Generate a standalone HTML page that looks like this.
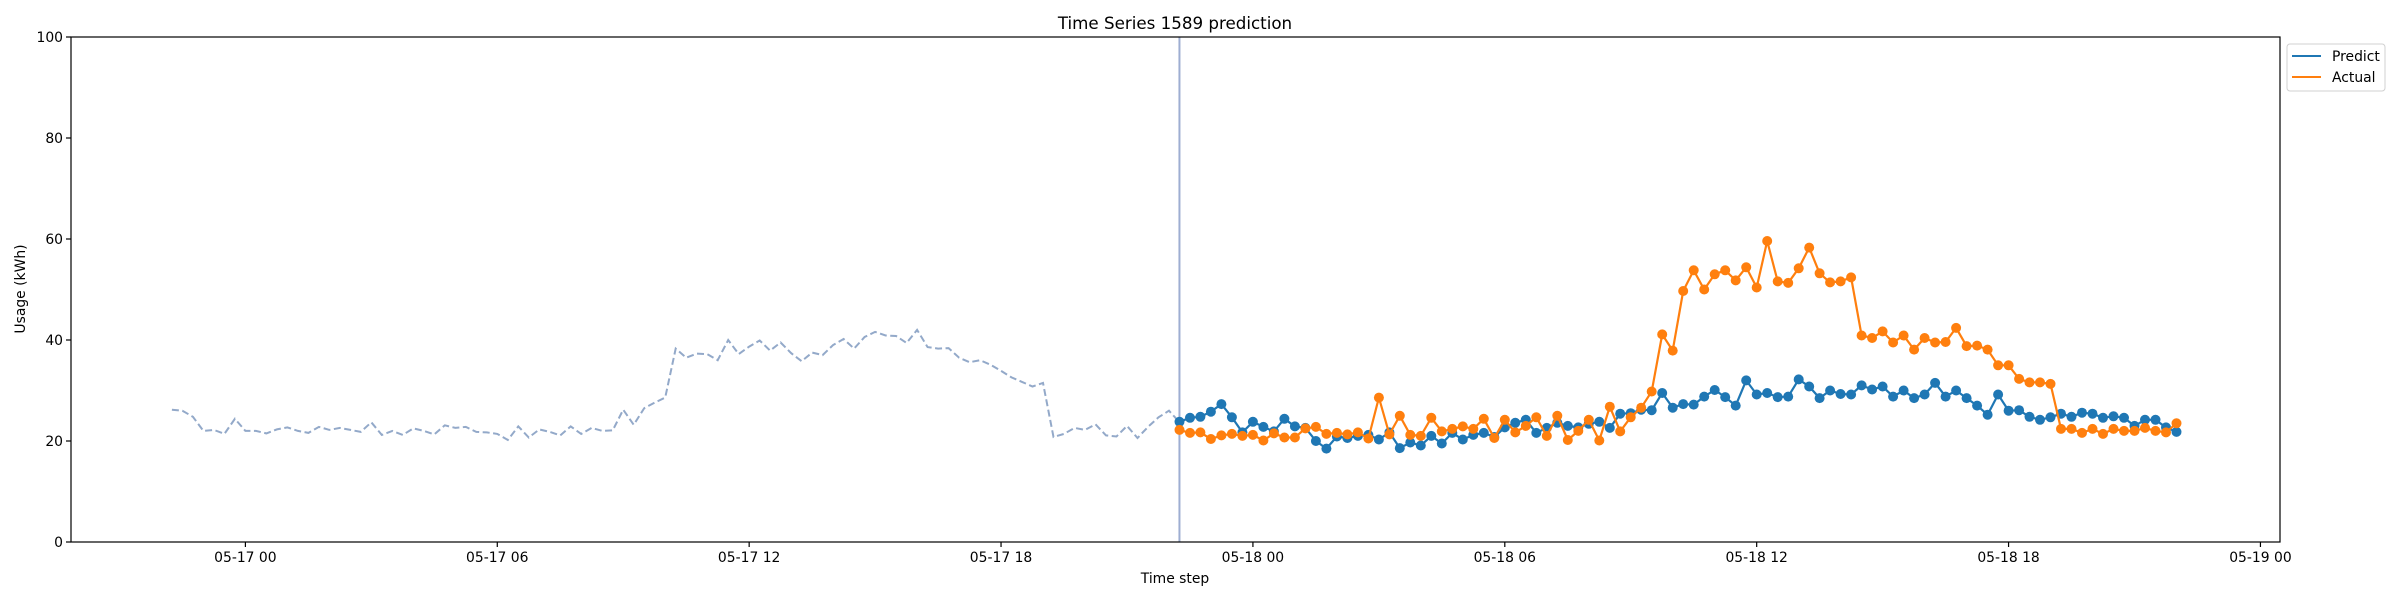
<!DOCTYPE html>
<html><head><meta charset="utf-8"><style>
html,body{margin:0;padding:0;background:#fff;}
svg{display:block;font-family:"DejaVu Sans","Liberation Sans",sans-serif;}
</style></head><body>
<svg id="chart" width="2400" height="600" viewBox="0 0 2400 600" xmlns="http://www.w3.org/2000/svg">
<rect x="0" y="0" width="2400" height="600" fill="#fff"/>
<text x="1175" y="29" font-size="16.7" text-anchor="middle">Time Series 1589 prediction</text>
<text x="1175" y="583" font-size="13.9" text-anchor="middle">Time step</text>
<text x="0" y="0" font-size="13.9" text-anchor="middle" transform="translate(25,289) rotate(-90)">Usage (kWh)</text>
<g id="plot"></g>
<g id="axes"></g>
<g>
<rect x="2287" y="44" width="98" height="47" rx="3" fill="#fff" stroke="#d0d0d0"/>
<line x1="2292" y1="56" x2="2321" y2="56" stroke="#1f77b4" stroke-width="2"/>
<text x="2332" y="61" font-size="13.9">Predict</text>
<line x1="2292" y1="77" x2="2321" y2="77" stroke="#ff7f0e" stroke-width="2"/>
<text x="2332" y="82" font-size="13.9">Actual</text>
</g>
</svg>
<script>
// hours relative to 05-17 00:00, 15-minute steps
const historyStart = -1.75;
const forecastStart = 22.25;
const stepHours = 0.25;
const historyValues = [26.2,26.0,24.8,22.0,22.2,21.4,24.4,22.0,22.0,21.5,22.3,22.7,22.0,21.6,22.8,22.2,22.6,22.2,21.8,23.7,21.2,22.0,21.2,22.5,22.0,21.3,23.1,22.6,22.8,21.8,21.7,21.4,20.2,
22.9,20.7,22.3,21.8,21.1,22.9,21.4,22.6,22.0,22.1,26.2,23.2,26.5,27.6,28.6,38.3,36.5,37.3,37.2,36.0,40.0,37.2,38.7,39.9,37.9,39.5,37.4,35.8,37.5,37.0,39.0,40.2,
38.3,40.6,41.6,40.9,40.8,39.4,42.0,38.6,38.3,38.4,36.5,35.6,36.0,35.1,33.9,32.6,31.7,30.8,31.5,20.8,21.4,22.6,22.2,23.3,21.1,20.9,23.0,20.6,22.8,24.7,26.0,23.7];
const predictValues = [23.8,24.6,24.8,25.8,27.3,24.7,21.7,23.8,22.8,21.9,24.4,22.9,22.6,20.0,18.5,20.9,20.6,21.0,21.2,20.3,21.7,18.6,19.7,19.1,21.0,19.5,21.6,20.3,21.2,21.6,20.8,22.7,
23.6,24.2,21.6,22.6,23.6,23.0,22.7,23.4,23.8,22.6,25.4,25.5,26.2,26.1,29.5,26.6,27.3,27.2,28.8,30.1,28.7,27.0,32.0,29.2,29.5,28.7,28.8,32.2,30.8,28.5,30.0,
29.3,29.2,31.0,30.2,30.8,28.8,30.0,28.5,29.2,31.5,28.8,30.0,28.5,27.0,25.2,29.2,26.0,26.1,24.8,24.2,24.7,25.4,24.8,25.6,25.4,24.6,24.9,24.6,23.0,24.2,24.2,22.7,21.8];
const actualValues = [22.2,21.6,21.7,20.4,21.1,21.4,21.0,21.2,20.1,21.5,20.7,20.7,22.5,22.8,21.4,21.6,21.3,21.7,20.5,28.6,21.3,25.0,21.2,21.0,24.6,21.9,22.4,22.9,22.4,24.4,20.6,24.2,
21.7,23.0,24.7,21.0,25.0,20.2,22.0,24.2,20.1,26.8,21.9,24.7,26.6,29.8,41.1,37.9,49.7,53.8,50.0,53.0,53.8,51.8,54.4,50.4,59.6,51.6,51.3,54.2,58.3,53.2,51.4,
51.6,52.4,40.9,40.4,41.7,39.5,40.9,38.1,40.4,39.5,39.6,42.4,38.8,38.9,38.1,35.0,35.0,32.3,31.6,31.6,31.3,22.4,22.4,21.6,22.4,21.4,22.4,22.0,22.0,22.6,22.0,21.7,23.5];
const yTicks = [0,20,40,60,80,100];
const xTickHours = [0,6,12,18,24,30,36,42,48];
const xTickLabels = ["05-17 00","05-17 06","05-17 12","05-17 18","05-18 00","05-18 06","05-18 12","05-18 18","05-19 00"];

const L=71,R=2280,T=37,B=542;
const xS = h => 245.4 + h*41.98;
const yS = v => B - (v/100)*(B-T);
const NS="http://www.w3.org/2000/svg";
const plot=document.getElementById('plot'), axes=document.getElementById('axes');
function mk(tag,attrs,parent){const e=document.createElementNS(NS,tag);for(const k in attrs)e.setAttribute(k,attrs[k]);parent.appendChild(e);return e;}

// history
let hp=historyValues.map((v,i)=>xS(historyStart+i*stepHours).toFixed(1)+','+yS(v).toFixed(1)).join(' ');
let hl=mk('polyline',{points:hp,fill:'none',stroke:'#93a9c9','stroke-width':2,'stroke-dasharray':'7,3.5'},plot);


// vertical divider
let vl=mk('line',{x1:xS(forecastStart),x2:xS(forecastStart),y1:T,y2:B,stroke:'#9eaed2','stroke-width':2},plot);



function series(vals,color,name){
  const g=mk('g',{},plot);
  
  
  const pts=vals.map((v,i)=>xS(forecastStart+i*stepHours).toFixed(1)+','+yS(v).toFixed(1)).join(' ');
  const pl=mk('polyline',{points:pts,fill:'none',stroke:color,'stroke-width':2.2},g);
  
  
  vals.forEach((v,i)=>{
    const c=mk('circle',{cx:xS(forecastStart+i*stepHours).toFixed(1),cy:yS(v).toFixed(1),r:5,fill:color},g);
    
    
  });
}
series(predictValues,'#1f77b4','predict');
series(actualValues,'#ff7f0e','actual');

// axes frame
let fr=mk('rect',{x:L,y:T,width:R-L,height:B-T,fill:'none',stroke:'#000','stroke-width':1.2},axes);


yTicks.forEach(v=>{
  const y=yS(v);
  const t=mk('line',{x1:L-5,x2:L,y1:y,y2:y,stroke:'#000','stroke-width':1.2},axes);
  
  
  const tx=mk('text',{x:L-8,y:y+5,'font-size':13.9,'text-anchor':'end'},axes);
  tx.textContent=v;
  
  
});
xTickHours.forEach((h,i)=>{
  const x=xS(h);
  const t=mk('line',{x1:x,x2:x,y1:B,y2:B+5,stroke:'#000','stroke-width':1.2},axes);
  
  
  const tx=mk('text',{x:x,y:B+20,'font-size':13.9,'text-anchor':'middle'},axes);
  tx.textContent=xTickLabels[i];
  
  
});
</script>
</body></html>
